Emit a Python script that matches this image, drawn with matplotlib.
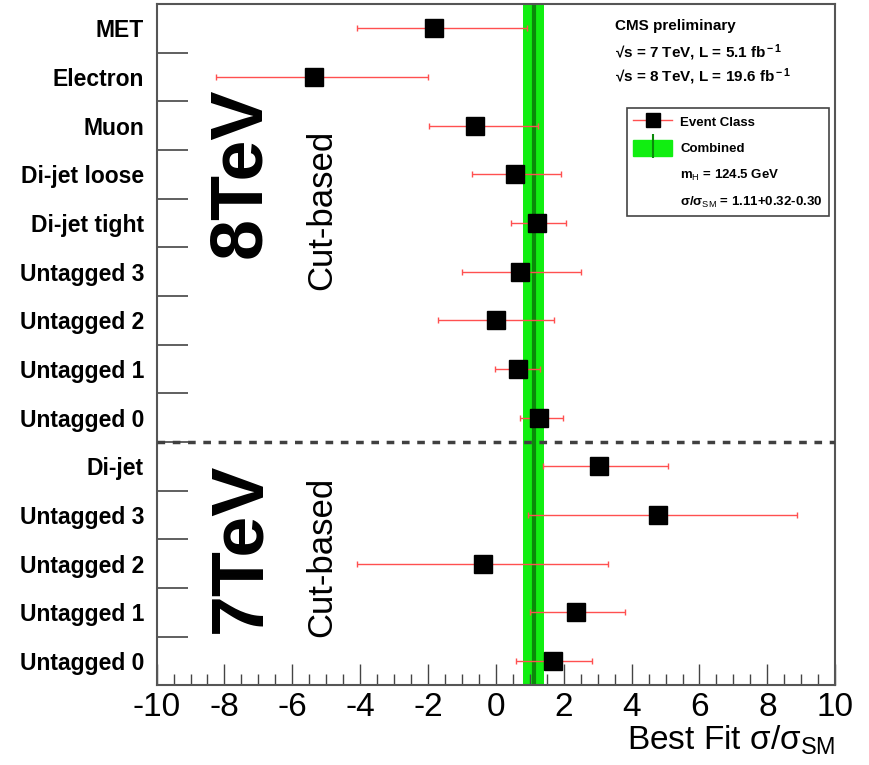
import matplotlib
matplotlib.use('Agg')
import matplotlib.pyplot as plt
from matplotlib.lines import Line2D
from matplotlib.patches import Patch

plt.rcParams['font.family'] = ['Liberation Sans', 'DejaVu Sans']
plt.rcParams['mathtext.fontset'] = 'custom'
plt.rcParams['mathtext.rm'] = 'Liberation Sans'
plt.rcParams['mathtext.it'] = 'Liberation Sans:italic'
plt.rcParams['mathtext.bf'] = 'Liberation Sans:bold'
plt.rcParams['axes.unicode_minus'] = False

# event classes, top to bottom (8 TeV first, then 7 TeV)
categories = ['MET', 'Electron', 'Muon', 'Di-jet loose', 'Di-jet tight',
              'Untagged 3', 'Untagged 2', 'Untagged 1', 'Untagged 0',
              'Di-jet', 'Untagged 3', 'Untagged 2', 'Untagged 1', 'Untagged 0']
best_fit = [-1.82, -5.35, -0.62, 0.56, 1.21, 0.71, 0.00, 0.64, 1.27,
            3.05, 4.78, -0.38, 2.35, 1.68]
fit_low = [-4.10, -8.26, -1.96, -0.69, 0.44, -1.00, -1.70, -0.02, 0.71,
           1.40, 0.94, -4.10, 1.01, 0.59]
fit_high = [0.93, -2.01, 1.23, 1.93, 2.06, 2.50, 1.71, 1.30, 1.98,
            5.07, 8.87, 3.30, 3.80, 2.82]
n_8tev = 9

combined = 1.11
combined_up = 0.32
combined_down = 0.30
mass = 124.5

fig = plt.figure(figsize=(8.7, 7.65), dpi=100)
ax = fig.add_axes([0.180, 0.104, 0.780, 0.891])

rows = list(range(len(categories)))
err_lo = [b - l for b, l in zip(best_fit, fit_low)]
err_hi = [h - b for b, h in zip(best_fit, fit_high)]

# combined result band
ax.axvspan(combined - combined_down, combined + combined_up,
           color='#11ee11', zorder=1, lw=0)
ax.axvline(combined, color='#0a8a0a', lw=3, zorder=1.5)

ax.errorbar(best_fit, rows, xerr=[err_lo, err_hi], fmt='s', color='black',
            markersize=13, ecolor='#ff5050', elinewidth=1.0, capsize=2,
            capthick=1.0, zorder=3)

# separator between 8 TeV and 7 TeV classes
ax.axhline(n_8tev - 0.5, color='#404040', lw=2.5, ls=(0, (2.2, 2.2)), zorder=4)

ax.set_xlim(-10, 10)
ax.set_ylim(len(categories) - 0.5, -0.5)

ax.set_xticks(range(-10, 11, 2))
ax.set_xticks([x * 0.5 for x in range(-20, 21)], minor=True)
ax.tick_params(axis='x', which='major', direction='in', length=15, width=1,
               labelsize=24, pad=5, color='#444444')
ax.tick_params(axis='x', which='minor', direction='in', length=8, width=1,
               color='#444444')

ax.set_yticks(rows)
ax.set_yticklabels(categories, fontweight='bold', fontsize=16.5)
ax.set_yticks([r + 0.5 for r in rows[:-1]], minor=True)
ax.tick_params(axis='y', which='major', length=0, pad=9)
ax.tick_params(axis='y', which='minor', direction='in', length=22, width=1.2,
               color='#444444')

for s in ax.spines.values():
    s.set_color('#555555')
    s.set_linewidth(1.5)

ax.set_xlabel('Best Fit σ/σ$_{\\rm SM}$', fontsize=24, loc='right',
              labelpad=0)

# energy and method labels
ax.text(0.124, 0.752, '8TeV', transform=ax.transAxes, rotation=90,
        fontsize=53, fontweight='bold', ha='center', va='center')
ax.text(0.243, 0.698, 'Cut-based', transform=ax.transAxes, rotation=90,
        fontsize=25, ha='center', va='center')
ax.text(0.124, 0.202, '7TeV', transform=ax.transAxes, rotation=90,
        fontsize=53, fontweight='bold', ha='center', va='center')
ax.text(0.243, 0.188, 'Cut-based', transform=ax.transAxes, rotation=90,
        fontsize=25, ha='center', va='center')

ax.text(0.675, 0.967, 'CMS preliminary', transform=ax.transAxes,
        fontsize=11, fontweight='bold', va='center')
ax.text(0.675, 0.929, '√s = 7 TeV, L = 5.1 fb$^{\\bf -1}$',
        transform=ax.transAxes, fontsize=11, fontweight='bold', va='center')
ax.text(0.675, 0.893, '√s = 8 TeV, L = 19.6 fb$^{\\bf -1}$',
        transform=ax.transAxes, fontsize=11, fontweight='bold', va='center')

handles = [
    Line2D([], [], color='#ff5050', lw=1, marker='s', markersize=10,
           markerfacecolor='black', markeredgecolor='black'),
    (Patch(facecolor='#11ee11', edgecolor='#11ee11'),
     Line2D([], [], color='#0a8a0a', marker='|', ls='none', markersize=17,
            markeredgewidth=1.5)),
    Line2D([], [], ls='none'),
    Line2D([], [], ls='none'),
]
labels = [
    'Event Class',
    'Combined',
    'm$_{\\rm H}$ = %.1f GeV' % mass,
    'σ/σ$_{\\rm SM}$ = %.2f+%.2f-%.2f' % (combined, combined_up,
                                          combined_down),
]
leg = ax.legend(handles, labels, loc='upper right',
                bbox_to_anchor=(0.996, 0.853),
                prop={'weight': 'bold', 'size': 9.5}, frameon=True,
                fancybox=False, edgecolor='#444444', framealpha=1,
                handlelength=3.0, handleheight=1.4, borderpad=0.45,
                labelspacing=0.85, handletextpad=0.6, borderaxespad=0.3)
leg.get_frame().set_linewidth(1.2)
leg.set_zorder(5)

fig.savefig('out.png', dpi=100)
